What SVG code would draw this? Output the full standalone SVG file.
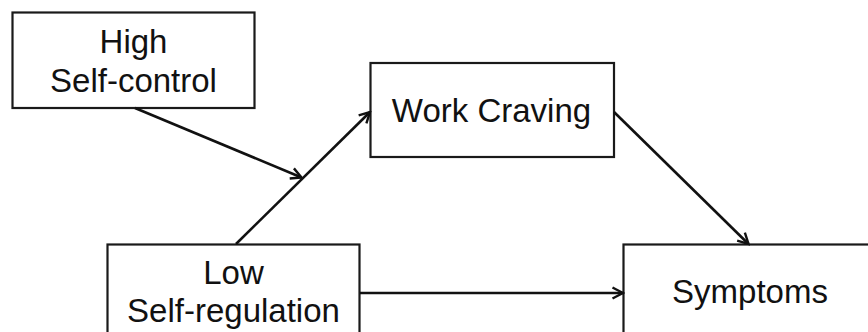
<svg xmlns="http://www.w3.org/2000/svg" width="868" height="332" viewBox="0 0 868 332">
<style>
.box{fill:#fff;stroke:#1a1a1a;stroke-width:2.2}
.lbl{font-family:"Liberation Sans",Arial,sans-serif;font-size:33px;fill:#111;text-anchor:middle}
.edge{stroke:#111;stroke-width:2.6;fill:none;marker-end:url(#ah)}
</style>
<defs>
<marker id="ah" viewBox="0 0 14 14" refX="12" refY="7" markerWidth="14" markerHeight="14" markerUnits="userSpaceOnUse" orient="auto">
<path d="M1.5,1.5 L12,7 L1.5,12.5" fill="none" stroke="#111" stroke-width="2.4" stroke-linejoin="miter"/>
</marker>
</defs>
<rect width="868" height="332" fill="#fff"/>
<g id="high-self-control">
<rect class="box" x="12.5" y="12.5" width="242" height="95.5"/>
<text class="lbl" x="133.5" y="53">High</text>
<text class="lbl" x="133.5" y="92">Self-control</text>
</g>
<g id="work-craving">
<rect class="box" x="370.5" y="63" width="243.5" height="94"/>
<text class="lbl" x="491.5" y="122">Work Craving</text>
</g>
<g id="low-self-regulation">
<rect class="box" x="107.5" y="244.5" width="252" height="100"/>
<text class="lbl" x="233.5" y="283.5">Low</text>
<text class="lbl" x="233.5" y="322">Self-regulation</text>
</g>
<g id="symptoms">
<rect class="box" x="623.5" y="244.5" width="260" height="100"/>
<text class="lbl" x="750" y="302.5">Symptoms</text>
</g>
<g id="connectors">
<line class="edge" x1="135" y1="108" x2="301.5" y2="177.5"/>
<line class="edge" x1="236" y1="244" x2="370" y2="112"/>
<line class="edge" x1="614" y1="112" x2="748.5" y2="244"/>
<line class="edge" x1="360" y1="293" x2="623" y2="293"/>
</g>
</svg>
